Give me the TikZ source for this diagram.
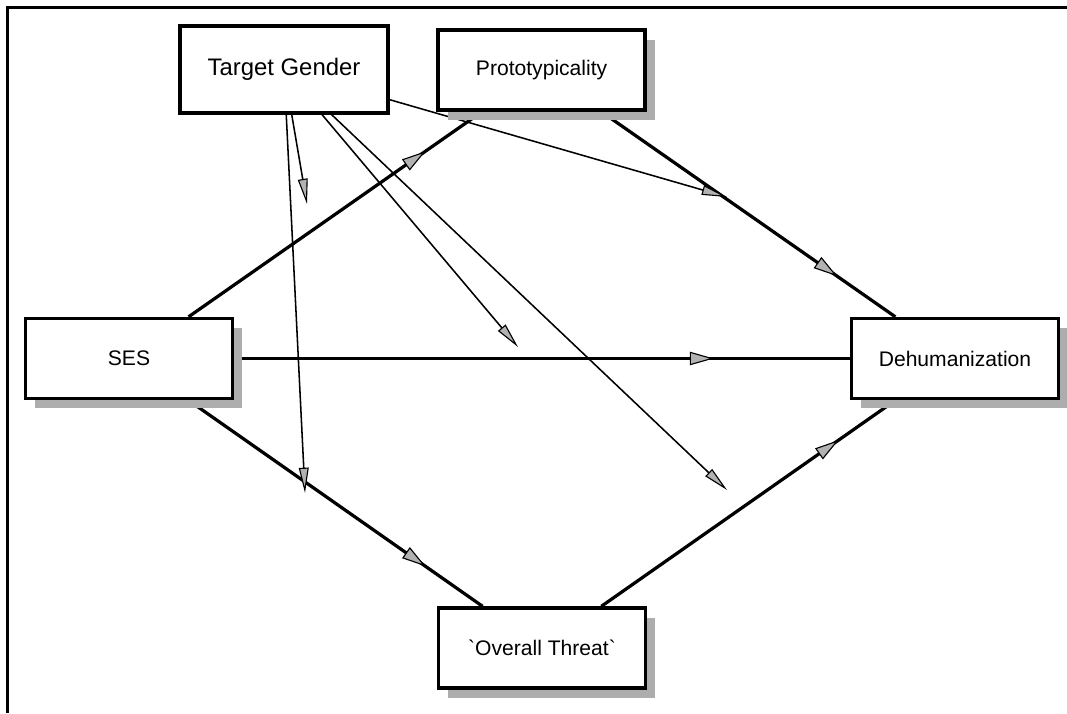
\documentclass[tikz,border=0pt]{standalone}
\usepackage{fontspec}
\setmainfont{Liberation Sans}
\usepackage{tikz}
\usetikzlibrary{arrows.meta,shadows,decorations.markings,backgrounds}

\tikzset{
 var/.style={draw, line width=2.4pt, fill=white, minimum width=5.175cm, minimum height=2cm, font=\fontsize{15}{18}\selectfont},
 shade/.style={drop shadow={shadow xshift=0.24cm, shadow yshift=-0.24cm, fill=black!32, opacity=1}},
 effect/.style={line width=2.3pt, postaction={decorate}, decoration={markings, mark=at position #1 with {\arrow{Triangle[length=17pt, width=9.5pt, fill=black!30, line width=0.8pt]}}}},
 modarrow/.style={line width=1.1pt, -{Triangle[length=18pt, width=7pt, fill=black!30, line width=0.8pt]}}
}

\begin{document}
\begin{tikzpicture}
\useasboundingbox (0,0) rectangle (26.675,17.825);
\draw[line width=2.3pt] (0.1875,0) -- (0.1875,17.6375) -- (26.8,17.6375);

\node[var, minimum width=5.2cm, minimum height=2.175cm, font=\fontsize{17}{20}\selectfont](gender) at (7.1,16.09){Target Gender};
\node[var, shade](proto) at (13.54,16.075){Prototypicality};
\node[var, shade](ses) at (3.225,8.8625){SES};
\node[var, shade](dehum) at (23.875,8.8625){Dehumanization};
\node[var, shade](threat) at (13.55,1.625){\textasciigrave Overall Threat\textasciigrave};

\coordinate (m1) at (7.675,12.725);
\coordinate (m2) at (7.625,5.5);
\coordinate (m3) at (12.95,9.15);
\coordinate (m4) at (18.175,5.575);
\coordinate (m5) at (18.175,12.9);

\begin{scope}[on background layer]
\foreach \from/\to/\p in {ses/proto/0.807,proto/dehum/0.802,ses/dehum/0.779,ses/threat/0.806,threat/dehum/0.806}
 \draw[effect=\p] (\from) -- (\to);
\foreach \to in {m1,m2,m3,m4,m5}
 \draw[modarrow] (gender) -- (\to);
\end{scope}
\end{tikzpicture}
\end{document}
